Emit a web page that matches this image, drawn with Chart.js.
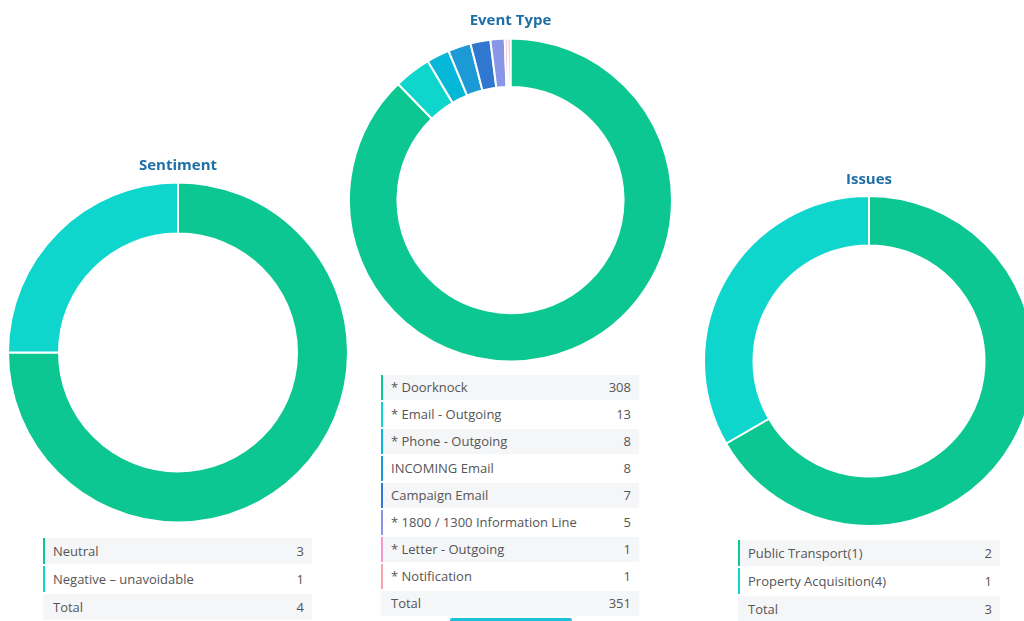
<!DOCTYPE html>
<html>
<head>
<meta charset="utf-8">
<script src="https://cdn.jsdelivr.net/npm/chart.js@4"></script>
<style>
  html, body { margin: 0; padding: 0; width: 1024px; height: 621px; overflow: hidden; background: #fff; }
  body { position: relative; font-family: "Open Sans", sans-serif; }
  .box { position: absolute; }
  .tbl { position: absolute; font-size: 13px; color: #555; }
  .row { height: 25px; line-height: 25px; margin-bottom: 2px; display: flex; justify-content: space-between;
         padding: 0 8px 0 8px; border-left: 2px solid transparent; }
  .small .row { height: 26px; line-height: 26px; }
  .row:nth-child(odd) { background: #f5f6f8; }
  .bar { position: absolute; left: 450px; top: 618px; width: 122px; height: 4px; background: #1cc0d8; border-radius: 2px; }
</style>
</head>
<body>
<div class="box" style="left:7px;top:157px;width:342px;height:367px"><canvas id="cSent"></canvas></div>
<div class="box" style="left:348px;top:12px;width:325px;height:351px"><canvas id="cEvent"></canvas></div>
<div class="box" style="left:703px;top:171px;width:332px;height:356px"><canvas id="cIssue"></canvas></div>

<div class="tbl small" id="tSent" style="left:43px;top:538px;width:269px"></div>
<div class="tbl" id="tEvent" style="left:381px;top:375px;width:258px"></div>
<div class="tbl small" id="tIssue" style="left:738px;top:540px;width:262px"></div>
<div class="bar"></div>

<script>
// Sentiment
const sentLabels = ["Neutral", "Negative \u2013 unavoidable"];
const sentValues = [3, 1];
const sentColors = ["#0dc793", "#0fd6cc"];

// Event Type
const eventLabels = ["* Doorknock", "* Email - Outgoing", "* Phone - Outgoing", "INCOMING Email",
  "Campaign Email", "* 1800 / 1300 Information Line", "* Letter - Outgoing", "* Notification"];
const eventValues = [308, 13, 8, 8, 7, 5, 1, 1];
const eventColors = ["#0dc793", "#0fd6cc", "#06b8d8", "#1b9ad6", "#2f77cf", "#8797e6", "#f59ac8", "#f7a3ad"];

// Issues
const issueLabels = ["Public Transport(1)", "Property Acquisition(4)"];
const issueValues = [2, 1];
const issueColors = ["#0dc793", "#0fd6cc"];

function makeDonut(id, title, labels, values, colors, padBottom) {
  const canvas = document.getElementById(id);
  const parent = canvas.parentNode;
  canvas.width = parent.clientWidth;
  canvas.height = parent.clientHeight;
  new Chart(canvas, {
    type: "doughnut",
    data: {
      labels,
      datasets: [{ data: values, backgroundColor: colors, borderColor: "#fff", borderWidth: 2 }]
    },
    options: {
      responsive: false,
      animation: false,
      cutout: "70%",
      layout: { padding: 0 },
      plugins: {
        legend: { display: false },
        tooltip: { enabled: false },
        title: {
          display: true, text: title, color: "#1f6fa6",
          font: { family: "Open Sans", size: 15, weight: "bold" },
          padding: { top: 0, bottom: padBottom }
        }
      }
    }
  });
}

function makeTable(id, labels, values, colors) {
  const el = document.getElementById(id);
  let html = "";
  labels.forEach((l, i) => {
    html += `<div class="row" style="border-left-color:${colors[i]}"><span>${l}</span><span>${values[i]}</span></div>`;
  });
  const total = values.reduce((a, b) => a + b, 0);
  html += `<div class="row"><span>Total</span><span>${total}</span></div>`;
  el.innerHTML = html;
}

makeDonut("cSent", "Sentiment", sentLabels, sentValues, sentColors, 6);
makeDonut("cEvent", "Event Type", eventLabels, eventValues, eventColors, 7);
makeDonut("cIssue", "Issues", issueLabels, issueValues, issueColors, 6);

makeTable("tSent", sentLabels, sentValues, sentColors);
makeTable("tEvent", eventLabels, eventValues, eventColors);
makeTable("tIssue", issueLabels, issueValues, issueColors);
</script>
</body>
</html>
